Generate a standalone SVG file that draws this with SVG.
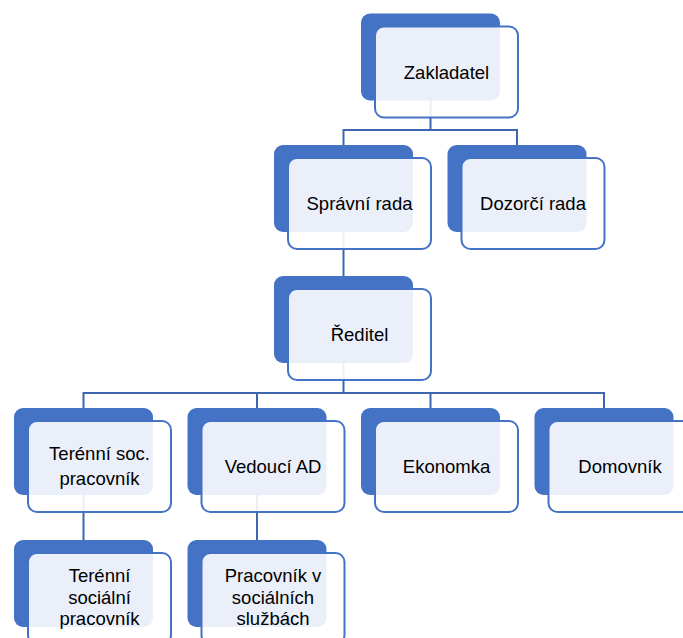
<svg xmlns="http://www.w3.org/2000/svg" width="683" height="638" viewBox="0 0 683 638">
<style>
.bk{fill:#4472C4}
.fr{fill:#ffffff;fill-opacity:0.89;stroke:#4472C4;stroke-width:2}
.t{font-family:"Liberation Sans",Arial,sans-serif;font-size:18.5px;fill:#000;text-anchor:middle}
.c{fill:none;stroke:#3E66B0;stroke-width:2}
</style>
<rect width="683" height="638" fill="#ffffff"/>
<g id="connectors">
<path class="c" d="M430.5 100 V130 M343.5 145 V130 H517 V145"/>
<path class="c" d="M343.5 232 V276"/>
<path class="c" d="M343.5 363 V393 M83.5 408 V393 H604 V408 M257 393 V408 M430.5 393 V408"/>
<path class="c" d="M83.5 495 V540 M257 495 V540"/>
</g>
<g id="zakladatel">
<rect class="bk" x="361" y="13.5" width="139" height="87" rx="9"/>
<rect class="fr" x="375" y="26.5" width="143" height="91" rx="9"/>
<text class="t" x="446.5" y="78.5">Zakladatel</text>
</g>
<g id="spravni-rada">
<rect class="bk" x="274" y="145" width="139" height="87" rx="9"/>
<rect class="fr" x="288" y="158" width="143" height="91" rx="9"/>
<text class="t" x="359.5" y="210">Správní rada</text>
</g>
<g id="dozorci-rada">
<rect class="bk" x="447.5" y="145" width="139" height="87" rx="9"/>
<rect class="fr" x="461.5" y="158" width="143" height="91" rx="9"/>
<text class="t" x="533" y="210">Dozorčí rada</text>
</g>
<g id="reditel">
<rect class="bk" x="274" y="276" width="139" height="87" rx="9"/>
<rect class="fr" x="288" y="289" width="143" height="91" rx="9"/>
<text class="t" x="359.5" y="341">Ředitel</text>
</g>
<g id="terenni-soc">
<rect class="bk" x="14" y="408" width="139" height="87" rx="9"/>
<rect class="fr" x="28" y="421" width="143" height="91" rx="9"/>
<text class="t" x="99.5" y="460">Terénní soc.</text>
<text class="t" x="99.5" y="485">pracovník</text>
</g>
<g id="vedouci-ad">
<rect class="bk" x="187.5" y="408" width="139" height="87" rx="9"/>
<rect class="fr" x="201.5" y="421" width="143" height="91" rx="9"/>
<text class="t" x="273" y="473">Vedoucí AD</text>
</g>
<g id="ekonomka">
<rect class="bk" x="361" y="408" width="139" height="87" rx="9"/>
<rect class="fr" x="375" y="421" width="143" height="91" rx="9"/>
<text class="t" x="446.5" y="473">Ekonomka</text>
</g>
<g id="domovnik">
<rect class="bk" x="534.5" y="408" width="139" height="87" rx="9"/>
<rect class="fr" x="548.5" y="421" width="143" height="91" rx="9"/>
<text class="t" x="620" y="473">Domovník</text>
</g>
<g id="terenni-socialni">
<rect class="bk" x="14" y="540" width="139" height="87" rx="9"/>
<rect class="fr" x="28" y="553" width="143" height="91" rx="9"/>
<text class="t" x="99.5" y="582">Terénní</text>
<text class="t" x="99.5" y="603.5">sociální</text>
<text class="t" x="99.5" y="625">pracovník</text>
</g>
<g id="pracovnik">
<rect class="bk" x="187.5" y="540" width="139" height="87" rx="9"/>
<rect class="fr" x="201.5" y="553" width="143" height="91" rx="9"/>
<text class="t" x="273" y="582">Pracovník v</text>
<text class="t" x="273" y="603.5">sociálních</text>
<text class="t" x="273" y="625">službách</text>
</g>
</svg>
